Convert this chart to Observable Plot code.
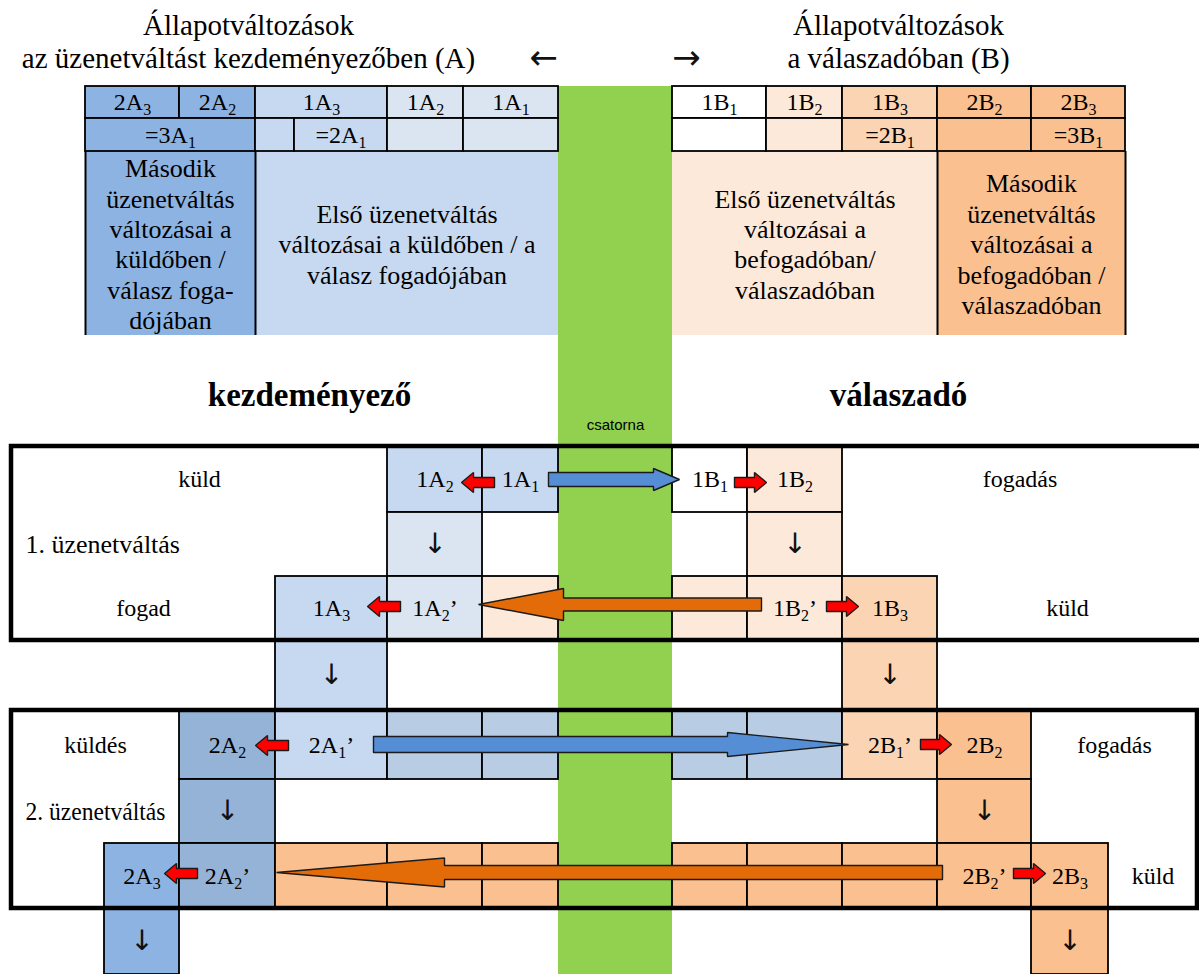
<!DOCTYPE html>
<html><head><meta charset="utf-8">
<script src="https://cdn.jsdelivr.net/npm/d3@7"></script>
<script src="https://cdn.jsdelivr.net/npm/@observablehq/plot@0.6"></script>
<style>html,body{margin:0;padding:0;background:#fff;overflow:hidden} svg{display:block}</style>
</head><body><div id="chart"></div>
<script>
// grid lines of the diagram (column and row boundaries)
const colEdges = [11, 85, 104, 179, 255, 275, 294, 387, 463, 482, 558, 672, 747, 766, 842, 937, 1031, 1108, 1125, 1197, 1206];
const rowEdges = [86, 118, 151, 335, 446, 512, 576, 640, 710, 779, 843, 908, 974];

const tones = {D:"#8db3e2", M:"#c6d9f1", L:"#dbe5f1", G:"#95b3d7", S:"#b8cce4", W:"#ffffff", P1:"#fde9d9", P2:"#fbd4b4", P3:"#fac090", C:"#92d050"};

// top table (rows 1-2)
const tableCells = [
  {c:[1,3], r:[0,1], t:"D", l:"2A_3"}, {c:[3,4], r:[0,1], t:"D", l:"2A_2"},
  {c:[4,7], r:[0,1], t:"M", l:"1A_3"}, {c:[7,8], r:[0,1], t:"L", l:"1A_2"},
  {c:[8,10], r:[0,1], t:"L", l:"1A_1"},
  {c:[11,13], r:[0,1], t:"W", l:"1B_1"}, {c:[13,14], r:[0,1], t:"P1", l:"1B_2"},
  {c:[14,15], r:[0,1], t:"P2", l:"1B_3"}, {c:[15,16], r:[0,1], t:"P3", l:"2B_2"},
  {c:[16,18], r:[0,1], t:"P3", l:"2B_3"},
  {c:[1,4], r:[1,2], t:"D", l:"=3A_1"}, {c:[4,6], r:[1,2], t:"M", l:""},
  {c:[6,7], r:[1,2], t:"M", l:"=2A_1"}, {c:[7,8], r:[1,2], t:"L", l:""},
  {c:[8,10], r:[1,2], t:"L", l:""},
  {c:[11,13], r:[1,2], t:"W", l:""}, {c:[13,14], r:[1,2], t:"P1", l:""},
  {c:[14,15], r:[1,2], t:"P2", l:"=2B_1"}, {c:[15,16], r:[1,2], t:"P3", l:""},
  {c:[16,18], r:[1,2], t:"P3", l:"=3B_1"}
];
// top table (row 3, descriptions)
const tableNotes = [
  {c:[1,4], r:[2,3], t:"D", l:"Második\nüzenetváltás\nváltozásai a\nküldőben /\nválasz foga-\ndójában"},
  {c:[4,10], r:[2,3], t:"M", l:"Első üzenetváltás\nváltozásai a küldőben / a\nválasz fogadójában"},
  {c:[11,15], r:[2,3], t:"P1", l:"Első üzenetváltás\nváltozásai a\nbefogadóban/\nválaszadóban"},
  {c:[15,18], r:[2,3], t:"P3", l:"Második\nüzenetváltás\nváltozásai a\nbefogadóban /\nválaszadóban"}
];
const noteRules = [1, 4, 15, 18];

// flow diagram cells
const flowCells = [
  {c:[7,9], r:[4,5], t:"M", l:"1A_2"}, {c:[9,10], r:[4,5], t:"M", l:"1A_1"},
  {c:[11,12], r:[4,5], t:"W", l:"1B_1"}, {c:[12,14], r:[4,5], t:"P1", l:"1B_2"},
  {c:[7,9], r:[5,6], t:"L", l:"↓"}, {c:[12,14], r:[5,6], t:"P1", l:"↓"},
  {c:[5,7], r:[6,7], t:"M", l:"1A_3"}, {c:[7,9], r:[6,7], t:"L", l:"1A_2’"},
  {c:[9,10], r:[6,7], t:"P1", l:""}, {c:[11,12], r:[6,7], t:"P1", l:""},
  {c:[12,14], r:[6,7], t:"P1", l:"1B_2’"}, {c:[14,15], r:[6,7], t:"P2", l:"1B_3"},
  {c:[5,7], r:[7,8], t:"M", l:"↓"}, {c:[14,15], r:[7,8], t:"P2", l:"↓"},
  {c:[3,5], r:[8,9], t:"G", l:"2A_2"}, {c:[5,7], r:[8,9], t:"M", l:"2A_1’"},
  {c:[7,9], r:[8,9], t:"S", l:""}, {c:[9,10], r:[8,9], t:"S", l:""},
  {c:[11,12], r:[8,9], t:"S", l:""}, {c:[12,14], r:[8,9], t:"S", l:""},
  {c:[14,15], r:[8,9], t:"P2", l:"2B_1’"}, {c:[15,16], r:[8,9], t:"P3", l:"2B_2"},
  {c:[3,5], r:[9,10], t:"G", l:"↓"}, {c:[15,16], r:[9,10], t:"P3", l:"↓"},
  {c:[2,3], r:[10,11], t:"D", l:"2A_3"}, {c:[3,5], r:[10,11], t:"G", l:"2A_2’"},
  {c:[5,7], r:[10,11], t:"P3", l:""}, {c:[7,9], r:[10,11], t:"P3", l:""},
  {c:[9,10], r:[10,11], t:"P3", l:""}, {c:[11,12], r:[10,11], t:"P3", l:""},
  {c:[12,14], r:[10,11], t:"P3", l:""}, {c:[14,15], r:[10,11], t:"P3", l:""},
  {c:[15,16], r:[10,11], t:"P3", l:"2B_2’"}, {c:[16,17], r:[10,11], t:"P3", l:"2B_3"},
  {c:[2,3], r:[11,12], t:"D", l:"↓"}, {c:[16,17], r:[11,12], t:"P3", l:"↓"}
];
const channelBand = [{c:[10,11], r:[0,12], t:"C"}];
const boxes = [{c:[0,20], r:[4,7]}, {c:[0,19], r:[8,11]}];

const sideLabels = [
  {l:"küld", c:[0,7], r:[4,5]}, {l:"fogad", c:[0,5], r:[6,7]},
  {l:"fogadás", c:[14,19], r:[4,5]}, {l:"küld", c:[15,19], r:[6,7]},
  {l:"küldés", c:[0,3], r:[8,9]}, {l:"fogadás", c:[16,19], r:[8,9]},
  {l:"küld", c:[17,19], r:[10,11]}
];
const stageLabels = [
  {l:"1. üzenetváltás", c:[0,7], r:[5,6]}, {l:"2. üzenetváltás", c:[0,3], r:[9,10]}
];

const titleLines = [
  {l:"Állapotváltozások", x:248, y:25}, {l:"az üzenetváltást kezdeményezőben (A)", x:248, y:58},
  {l:"Állapotváltozások", x:898, y:25}, {l:"a válaszadóban (B)", x:898, y:58}
];
const directionMarks = [{l:"←", x:543, y:58}, {l:"→", x:686, y:58}];
const roleNames = [{l:"kezdeményező", x:309, y:395}, {l:"válaszadó", x:898, y:395}];
const channelName = [{l:"csatorna", y:425}];

const arrows = [
  {shape:"red", tail:494, tip:461, y:482}, {shape:"red", tail:734, tip:766, y:482},
  {shape:"blue1", tail:548, tip:679, y:479},
  {shape:"red", tail:400, tip:367, y:606}, {shape:"orange1", tail:761, tip:478, y:604},
  {shape:"red", tail:826, tip:858, y:606},
  {shape:"red", tail:288, tip:255, y:745}, {shape:"blue2", tail:373, tip:848, y:744},
  {shape:"red", tail:920, tip:951, y:744},
  {shape:"red", tail:197, tip:164, y:873}, {shape:"orange2", tail:942, tip:276, y:872},
  {shape:"red", tail:1013, tip:1045, y:873}
];
const arrowShapes = {
  red: {fam:"red", shaft:5, head:10, len:12},
  blue1: {fam:"blue", shaft:7, head:11, len:26},
  blue2: {fam:"blue", shaft:8, head:12, len:121},
  orange1: {fam:"orange", shaft:6.5, head:16, len:85},
  orange2: {fam:"orange", shaft:7, head:14.5, len:168}
};
const arrowFills = {red:"#ff0000", blue:"#558ed5", orange:"#e36c09"};

// helpers
const x1 = d => colEdges[d.c[0]], x2 = d => colEdges[d.c[1]];
const y1 = d => rowEdges[d.r[0]], y2 = d => rowEdges[d.r[1]];
const cx = d => (x1(d) + x2(d)) / 2, cy = d => (y1(d) + y2(d)) / 2;
const rectCh = {x1, x2, y1, y2};

const arrowPts = arrows.flatMap((a, i) => {
  const s = arrowShapes[a.shape];
  const dir = Math.sign(a.tip - a.tail);
  const b = a.tip - dir * s.len;
  return [[a.tail, a.y - s.shaft], [b, a.y - s.shaft], [b, a.y - s.head], [a.tip, a.y],
          [b, a.y + s.head], [b, a.y + s.shaft], [a.tail, a.y + s.shaft], [a.tail, a.y - s.shaft]]
    .map(([x, y]) => ({id: i, fam: s.fam, x, y}));
});
const arrowMark = fam => Plot.line(arrowPts.filter(p => p.fam === fam),
  {x:"x", y:"y", z:"id", fill: arrowFills[fam], stroke:"#1b1b1b", strokeWidth:1.4, strokeLinejoin:"miter", curve:"linear"});

const serif = "Liberation Serif, Times New Roman, serif";
const isGlyph = d => d.l === "↓";
const cellLabels = arr => arr.filter(d => d.l && !isGlyph(d));
const cellGlyphs = arr => arr.filter(isGlyph);

const chart = Plot.plot({
  width: 1199, height: 974, margin: 0,
  x: {type:"linear", domain:[0,1199], range:[0,1199], axis:null},
  y: {type:"linear", domain:[0,974], range:[0,974], axis:null},
  color: {type:"identity"},
  style: {background:"#fff"},
  marks: [
    Plot.rect(channelBand, {...rectCh, fill: d => tones[d.t]}),
    Plot.rect(tableNotes, {...rectCh, fill: d => tones[d.t]}),
    Plot.ruleX(noteRules, {x: i => colEdges[i], y1: rowEdges[2], y2: rowEdges[3], stroke:"#000", strokeWidth:2}),
    Plot.rect(tableCells, {...rectCh, fill: d => tones[d.t], stroke:"#000", strokeWidth:1.8}),
    Plot.rect(flowCells, {...rectCh, fill: d => tones[d.t], stroke:"#000", strokeWidth:1.8}),
    Plot.rect(boxes, {...rectCh, fill:"none", stroke:"#000", strokeWidth:4.5}),
    arrowMark("blue"), arrowMark("orange"), arrowMark("red"),
    Plot.text(cellLabels(tableCells), {x: cx, y: cy, text:"l", fontFamily: serif, fontSize:24, fill:"#000"}),
    Plot.text(cellLabels(flowCells), {x: cx, y: cy, text:"l", fontFamily: serif, fontSize:24, fill:"#000"}),
    Plot.text(cellGlyphs(flowCells), {x: cx, y: cy, text:"l", fontFamily:"DejaVu Sans", fontSize:28, fill:"#111"}),
    Plot.text(tableNotes, {x: cx, y: cy, text:"l", fontFamily: serif, fontSize:26, lineHeight:1.17, fill:"#000"}),
    Plot.text(sideLabels, {x: cx, y: cy, text:"l", fontFamily: serif, fontSize:24, fill:"#000"}),
    Plot.text(stageLabels, {x: x1, y: cy, dx: 14, text:"l", textAnchor:"start", fontFamily: serif, fontSize:26, fill:"#000"}),
    Plot.text(titleLines, {x:"x", y:"y", text:"l", fontFamily: serif, fontSize:29, fill:"#000"}),
    Plot.text(directionMarks, {x:"x", y:"y", text:"l", fontFamily:"DejaVu Sans", fontSize:34, fill:"#111"}),
    Plot.text(roleNames, {x:"x", y:"y", text:"l", fontFamily: serif, fontSize:33, fontWeight:"bold", fill:"#000"}),
    Plot.text(channelName, {x: () => cx(channelBand[0]), y:"y", text:"l", fontFamily:"Liberation Sans, Arial, sans-serif", fontSize:15, fill:"#000"})
  ]
});

// render subscripts (e.g. "1A_2" -> 1A with subscript 2)
const NS = "http://www.w3.org/2000/svg";
chart.querySelectorAll("text").forEach(t => {
  if (t.querySelector("tspan")) return;
  const s = t.textContent;
  if (s === "2. üzenetváltás") { t.setAttribute("textLength", 140); t.setAttribute("lengthAdjust", "spacingAndGlyphs"); }
  const m = s.match(/^(.*?)_(\d)(.*)$/);
  if (!m) return;
  t.textContent = "";
  const a = document.createElementNS(NS, "tspan"); a.textContent = m[1];
  const b = document.createElementNS(NS, "tspan"); b.textContent = m[2];
  b.setAttribute("font-size", 16); b.setAttribute("dy", 5);
  t.append(a, b);
  if (m[3]) { const c = document.createElementNS(NS, "tspan"); c.textContent = m[3]; c.setAttribute("dy", -5); t.append(c); }
});
document.getElementById("chart").append(chart);
</script>
</body></html>
